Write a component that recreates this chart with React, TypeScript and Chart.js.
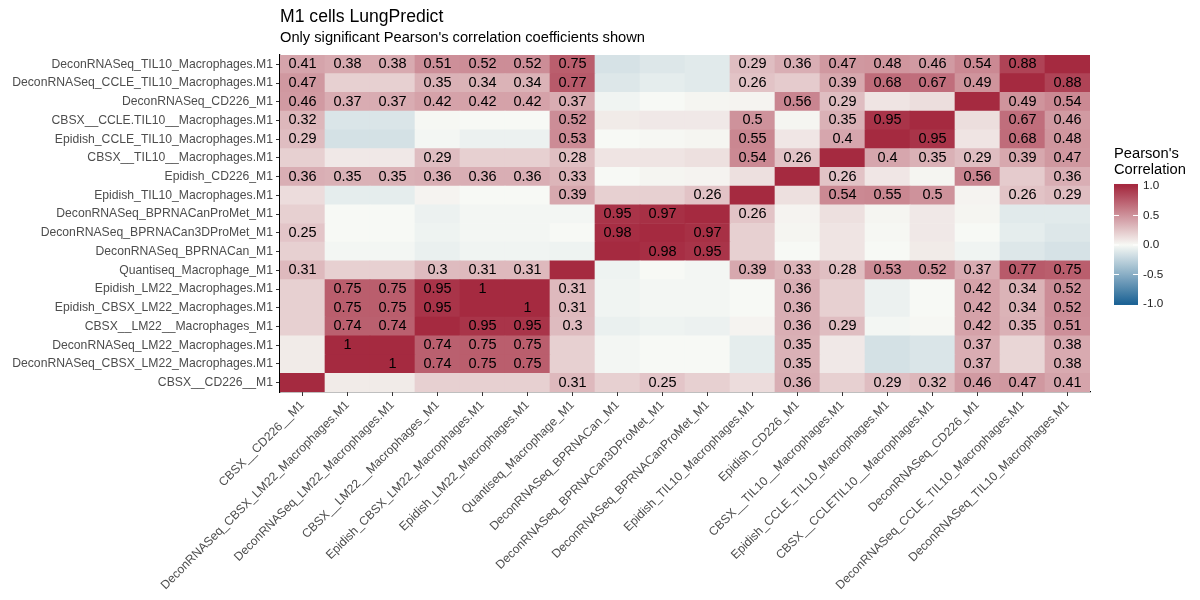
import { useEffect, useRef } from "react";
import { Chart, registerables } from "chart.js";

Chart.register(...registerables);
Chart.defaults.font.family = '"Liberation Sans", Arial, sans-serif';

// rows top to bottom
const rowLabels = [
  "DeconRNASeq_TIL10_Macrophages.M1",
  "DeconRNASeq_CCLE_TIL10_Macrophages.M1",
  "DeconRNASeq_CD226_M1",
  "CBSX__CCLE.TIL10__Macrophages.M1",
  "Epidish_CCLE_TIL10_Macrophages.M1",
  "CBSX__TIL10__Macrophages.M1",
  "Epidish_CD226_M1",
  "Epidish_TIL10_Macrophages.M1",
  "DeconRNASeq_BPRNACanProMet_M1",
  "DeconRNASeq_BPRNACan3DProMet_M1",
  "DeconRNASeq_BPRNACan_M1",
  "Quantiseq_Macrophage_M1",
  "Epidish_LM22_Macrophages.M1",
  "Epidish_CBSX_LM22_Macrophages.M1",
  "CBSX__LM22__Macrophages_M1",
  "DeconRNASeq_LM22_Macrophages.M1",
  "DeconRNASeq_CBSX_LM22_Macrophages.M1",
  "CBSX__CD226__M1",
];

// columns left to right
const colLabels = [
  "CBSX__CD226__M1",
  "DeconRNASeq_CBSX_LM22_Macrophages.M1",
  "DeconRNASeq_LM22_Macrophages.M1",
  "CBSX__LM22__Macrophages_M1",
  "Epidish_CBSX_LM22_Macrophages.M1",
  "Epidish_LM22_Macrophages.M1",
  "Quantiseq_Macrophage_M1",
  "DeconRNASeq_BPRNACan_M1",
  "DeconRNASeq_BPRNACan3DProMet_M1",
  "DeconRNASeq_BPRNACanProMet_M1",
  "Epidish_TIL10_Macrophages.M1",
  "Epidish_CD226_M1",
  "CBSX__TIL10__Macrophages.M1",
  "Epidish_CCLE_TIL10_Macrophages.M1",
  "CBSX__CCLETIL10__Macrophages.M1",
  "DeconRNASeq_CD226_M1",
  "DeconRNASeq_CCLE_TIL10_Macrophages.M1",
  "DeconRNASeq_TIL10_Macrophages.M1",
];

const corr = [
  [0.41, 0.38, 0.38, 0.51, 0.52, 0.52, 0.75, -0.15, -0.12, -0.1, 0.29, 0.36, 0.47, 0.48, 0.46, 0.54, 0.88, 1],
  [0.47, 0.2, 0.2, 0.35, 0.34, 0.34, 0.77, -0.12, -0.08, -0.1, 0.26, 0.22, 0.39, 0.68, 0.67, 0.49, 1, 0.88],
  [0.46, 0.37, 0.37, 0.42, 0.42, 0.42, 0.37, -0.03, 0, 0.02, 0.03, 0.56, 0.29, 0.1, 0.13, 1, 0.49, 0.54],
  [0.32, -0.13, -0.13, 0.01, 0, 0, 0.52, 0.07, 0.08, 0.08, 0.5, 0.02, 0.35, 0.95, 1, 0.13, 0.67, 0.46],
  [0.29, -0.16, -0.16, -0.02, -0.05, -0.05, 0.53, 0, 0.01, 0.02, 0.55, 0.09, 0.4, 1, 0.95, 0.1, 0.68, 0.48],
  [0.2, 0.08, 0.08, 0.29, 0.2, 0.2, 0.28, 0.1, 0.1, 0.12, 0.54, 0.26, 1, 0.4, 0.35, 0.29, 0.39, 0.47],
  [0.36, 0.35, 0.35, 0.36, 0.36, 0.36, 0.33, 0, 0.02, 0.03, 0.12, 1, 0.26, 0.09, 0.02, 0.56, 0.22, 0.36],
  [0.14, -0.08, -0.08, 0.03, 0, 0, 0.39, 0.2, 0.2, 0.26, 1, 0.12, 0.54, 0.55, 0.5, 0.03, 0.26, 0.29],
  [0.2, 0, 0, -0.05, -0.02, -0.02, -0.02, 0.95, 0.97, 1, 0.26, 0.03, 0.12, 0.02, 0.08, 0.02, -0.1, -0.1],
  [0.25, 0, 0, -0.04, -0.02, -0.02, 0, 0.98, 1, 0.97, 0.2, 0.02, 0.1, 0.01, 0.08, 0, -0.08, -0.12],
  [0.2, -0.02, -0.02, -0.06, -0.03, -0.03, -0.04, 1, 0.98, 0.95, 0.2, 0, 0.1, 0, 0.07, -0.03, -0.12, -0.15],
  [0.31, 0.2, 0.2, 0.3, 0.31, 0.31, 1, -0.04, 0, -0.02, 0.39, 0.33, 0.28, 0.53, 0.52, 0.37, 0.77, 0.75],
  [0.2, 0.75, 0.75, 0.95, 1, 1, 0.31, -0.03, -0.02, -0.02, 0, 0.36, 0.2, -0.05, 0, 0.42, 0.34, 0.52],
  [0.2, 0.75, 0.75, 0.95, 1, 1, 0.31, -0.03, -0.02, -0.02, 0, 0.36, 0.2, -0.05, 0, 0.42, 0.34, 0.52],
  [0.2, 0.74, 0.74, 1, 0.95, 0.95, 0.3, -0.06, -0.04, -0.05, 0.03, 0.36, 0.29, -0.02, 0.01, 0.42, 0.35, 0.51],
  [0.07, 1, 1, 0.74, 0.75, 0.75, 0.2, -0.02, 0, 0, -0.08, 0.35, 0.08, -0.16, -0.13, 0.37, 0.17, 0.38],
  [0.07, 1, 1, 0.74, 0.75, 0.75, 0.2, -0.02, 0, 0, -0.08, 0.35, 0.08, -0.16, -0.13, 0.37, 0.17, 0.38],
  [1, 0.07, 0.07, 0.2, 0.2, 0.2, 0.31, 0.2, 0.25, 0.2, 0.14, 0.36, 0.2, 0.29, 0.32, 0.46, 0.47, 0.41],
];

// 1 = significant, value printed in the cell
const signif = [
  "111111100011111110",
  "100111100010111101",
  "111111100001100011",
  "100000100010110011",
  "100000100010101011",
  "000100100011011111",
  "111111100000100101",
  "000000100100111011",
  "000000011010000000",
  "100000010100000000",
  "000000001100000000",
  "100111000011111111",
  "011110100001000111",
  "011101100001000111",
  "011011100001100111",
  "010111000001000101",
  "001111000001000101",
  "000000101001011111",
];

const legendTicks = [1, 0.5, 0, -0.5, -1];

const LOW = [27, 98, 148];
const MID = [247, 249, 245];
const HIGH = [165, 42, 64];

function fillFor(v: number) {
  const t = Math.min(1, Math.abs(v));
  const end = v >= 0 ? HIGH : LOW;
  const c = MID.map((m, i) => Math.round(m + (end[i] - m) * t));
  return `rgb(${c.join(",")})`;
}

const nRows = rowLabels.length;

const cellText = {
  id: "cellText",
  afterDatasetsDraw(chart: any) {
    const { ctx } = chart;
    const xs = chart.scales.x;
    const ys = chart.scales.y;
    ctx.save();
    ctx.font = '14.5px "Liberation Sans", Arial, sans-serif';
    ctx.fillStyle = "#000";
    ctx.textAlign = "center";
    ctx.textBaseline = "middle";
    corr.forEach((row, r) => {
      row.forEach((v, c) => {
        if (signif[r][c] !== "1") return;
        ctx.fillText(String(v), xs.getPixelForValue(c), ys.getPixelForValue(nRows - 1 - r + 0.5));
      });
    });
    ctx.restore();
  },
};

const colorBar = {
  id: "colorBar",
  afterDraw(chart: any) {
    const { ctx, chartArea } = chart;
    const x0 = chartArea.right + 24;
    const w = 24;
    const zeroY = (chartArea.top + chartArea.bottom) / 2 + 21.5;
    const unit = 59;
    const top = zeroY - 61;
    const bottom = zeroY + 60;
    ctx.save();
    const grad = ctx.createLinearGradient(0, zeroY - unit, 0, zeroY + unit);
    for (let i = 0; i <= 20; i++) {
      grad.addColorStop(i / 20, fillFor(1 - i / 10));
    }
    ctx.fillStyle = grad;
    ctx.fillRect(x0, top, w, bottom - top);

    ctx.strokeStyle = "#fff";
    ctx.lineWidth = 1;
    ctx.font = '11.7px "Liberation Sans", Arial, sans-serif';
    ctx.fillStyle = "#222";
    ctx.textAlign = "left";
    ctx.textBaseline = "middle";
    legendTicks.forEach((t) => {
      const y = zeroY - t * unit;
      if (Math.abs(t) < 1) {
        ctx.beginPath();
        ctx.moveTo(x0, y);
        ctx.lineTo(x0 + 5, y);
        ctx.moveTo(x0 + w - 5, y);
        ctx.lineTo(x0 + w, y);
        ctx.stroke();
      }
      ctx.fillText(t.toFixed(1), x0 + w + 5, y);
    });

    ctx.font = '14.7px "Liberation Sans", Arial, sans-serif';
    ctx.fillStyle = "#000";
    ctx.fillText("Pearson's", x0, zeroY - 91);
    ctx.fillText("Correlation", x0, zeroY - 75);
    ctx.restore();
  },
};

export default function App() {
  const canvasRef = useRef<HTMLCanvasElement | null>(null);
  const chartRef = useRef<Chart | null>(null);

  useEffect(() => {
    document.body.style.margin = "0";
    if (!canvasRef.current) return;
    if (chartRef.current) {
      chartRef.current.destroy();
    }

    // first dataset sits at the bottom of the stack
    const datasets = rowLabels
      .map((label, r) => ({
        label,
        data: colLabels.map(() => 1),
        backgroundColor: corr[r].map(fillFor),
        borderWidth: 0,
        barPercentage: 1,
        categoryPercentage: 1,
      }))
      .reverse();

    chartRef.current = new Chart(canvasRef.current, {
      type: "bar",
      data: { labels: colLabels, datasets },
      plugins: [cellText, colorBar],
      options: {
        responsive: true,
        maintainAspectRatio: false,
        animation: false,
        layout: { padding: { left: 0, right: 110, top: 0, bottom: 0 } },
        plugins: {
          legend: { display: false },
          tooltip: { enabled: false },
          title: {
            display: true,
            text: "M1 cells LungPredict",
            align: "start",
            fullSize: false,
            color: "#000",
            font: { size: 17.6, weight: "normal" },
            padding: { top: 6.5, bottom: 2 },
          },
          subtitle: {
            display: true,
            text: "Only significant Pearson's correlation coefficients shown",
            align: "start",
            fullSize: false,
            color: "#000",
            font: { size: 14.7, weight: "normal" },
            padding: { top: 0, bottom: 7.7 },
          },
        },
        scales: {
          x: {
            type: "category",
            stacked: true,
            z: 1,
            border: { display: true, color: "#000", width: 1.2 },
            grid: {
              display: true,
              offset: false,
              drawOnChartArea: false,
              drawTicks: true,
              tickLength: 4,
              color: "#333",
            },
            ticks: {
              autoSkip: false,
              minRotation: 45,
              maxRotation: 45,
              padding: 2,
              color: "#4D4D4D",
              font: { size: 12.2 },
            },
            afterFit: (scale: any) => {
              scale.height = 208;
            },
          },
          y: {
            type: "linear",
            stacked: true,
            min: 0,
            max: nRows,
            z: 1,
            border: { display: true, color: "#000", width: 1.2 },
            grid: {
              display: true,
              drawOnChartArea: false,
              drawTicks: true,
              tickLength: 4,
              color: "#333",
            },
            afterBuildTicks: (scale: any) => {
              scale.ticks = rowLabels.map((_, i) => ({ value: i + 0.5 }));
            },
            ticks: {
              autoSkip: false,
              padding: 3,
              color: "#4D4D4D",
              font: { size: 12.2 },
              callback: (value: any) => rowLabels[nRows - 1 - Math.floor(Number(value))],
            },
            afterFit: (scale: any) => {
              scale.width = 280;
            },
          },
        },
      },
    });

    return () => {
      chartRef.current?.destroy();
      chartRef.current = null;
    };
  }, []);

  return (
    <div style={{ width: 1200, height: 600 }}>
      <canvas ref={canvasRef} />
    </div>
  );
}
